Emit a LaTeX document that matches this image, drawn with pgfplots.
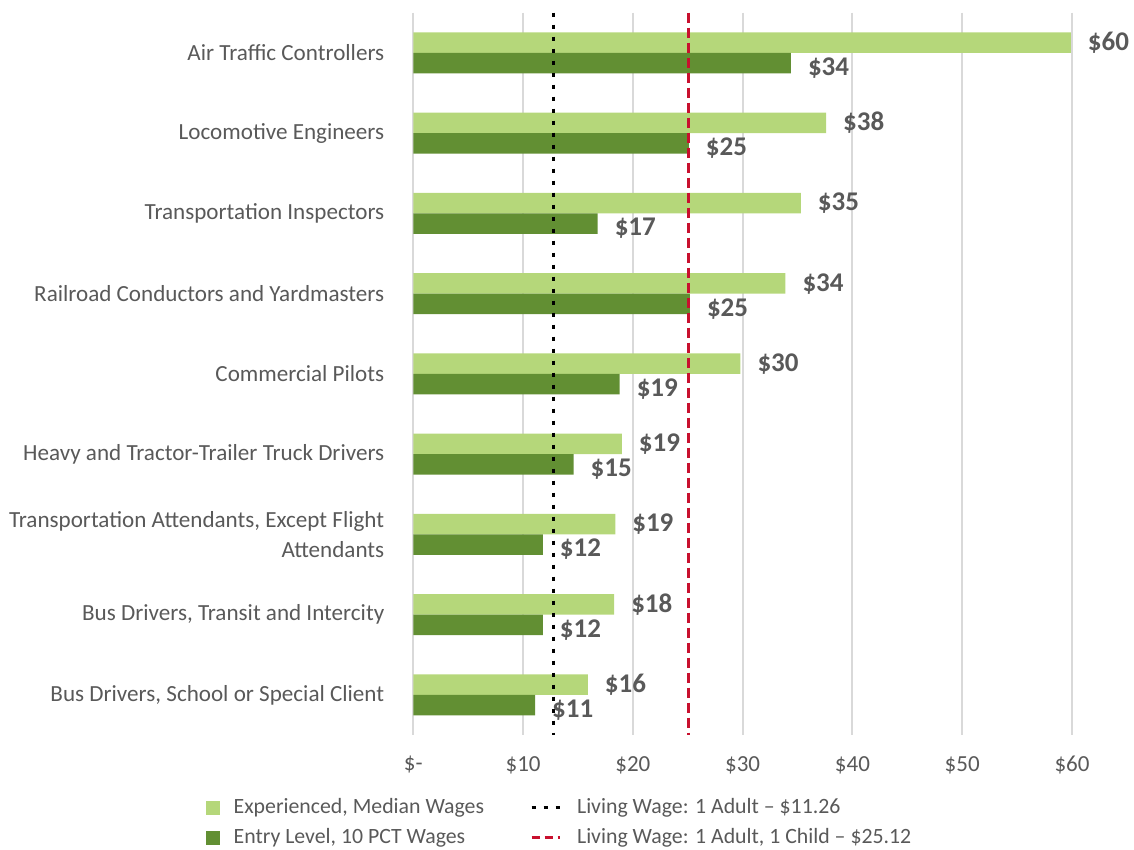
\documentclass[border=0pt]{standalone}
\usepackage{pgfplots}
\pgfplotsset{compat=1.18}
\usepackage{pgfplotstable}
\usepackage{fontspec}
\setmainfont{Carlito}
\definecolor{lightg}{RGB}{181,215,122}
\definecolor{darkg}{RGB}{98,143,51}
\definecolor{txtg}{RGB}{89,89,89}
\definecolor{gridg}{RGB}{217,217,217}
\definecolor{redl}{RGB}{200,16,46}
\pgfplotstableread{
y exp explab ent entlab
0 59.9 60 34.4 34
1 37.6 38 25.1 25
2 35.3 35 16.8 17
3 33.9 34 25.2 25
4 29.8 30 18.8 19
5 19.0 19 14.6 15
6 18.4 19 11.8 12
7 18.3 18 11.8 12
8 15.9 16 11.1 11
}\wages
\begin{document}
\begin{tikzpicture}
\begin{axis}[
  name=ax,
  scale only axis,
  width=329.35pt, height=361.15pt,
  xmin=0, xmax=60,
  ymin=-0.5, ymax=8.5,
  y dir=reverse,
  axis line style={draw=none},
  major tick length=0pt,
  xmajorgrids, grid style={gridg, line width=1pt},
  xtick={0,10,...,60},
  xticklabels={\$-,\$10,\$20,\$30,\$40,\$50,\$60},
  ytick={0,...,8},
  yticklabels={Air Traffic Controllers, Locomotive Engineers, Transportation Inspectors, Railroad Conductors and Yardmasters, Commercial Pilots, Heavy and Tractor-Trailer Truck Drivers, {Transportation Attendants, Except Flight\\Attendants}, {Bus Drivers, Transit and Intercity}, {Bus Drivers, School or Special Client}},
  yticklabel style={align=right, font=\fontsize{11.55}{15}\selectfont, text=txtg, xshift=-11pt},
  xticklabel style={font=\fontsize{11.5}{13}\selectfont, text=txtg, yshift=-7pt},
  clip=false,
  legend columns=2,
  transpose legend,
  legend cell align=left,
  legend style={at={(-0.325,-0.0765)}, anchor=north west, draw=none, fill=none,
    font=\fontsize{10.9}{12}\selectfont, text=txtg, row sep=2pt,
    /tikz/every even column/.append style={column sep=21pt}},
]
\addplot[xbar, bar width=0.256, bar shift=-0.128, fill=lightg, draw=none,
  point meta=explicit symbolic,
  nodes near coords={\$\pgfplotspointmeta},
  nodes near coords style={anchor=west, xshift=5pt, yshift=5pt, font=\fontsize{13.5}{15}\selectfont\bfseries, text=txtg},
  legend image code/.code={\fill[lightg] (0pt,-3.5pt) rectangle (7pt,3.5pt); \path (12pt,0pt);}]
  table[x=exp, y=y, meta=explab]{\wages};
\addlegendentry{Experienced, Median Wages}
\addplot[xbar, bar width=0.256, bar shift=0.128, fill=darkg, draw=none,
  point meta=explicit symbolic,
  nodes near coords={\$\pgfplotspointmeta},
  nodes near coords style={anchor=west, xshift=5pt, yshift=-7.5pt, font=\fontsize{13.5}{15}\selectfont\bfseries, text=txtg},
  legend image code/.code={\fill[darkg] (0pt,-3.5pt) rectangle (7pt,3.5pt); \path (12pt,0pt);}]
  table[x=ent, y=y, meta=entlab]{\wages};
\addlegendentry{Entry Level, 10 PCT Wages}
\addplot[black, line width=1.5pt, dash pattern=on 2pt off 4pt,
  legend image code/.code={\draw[black, line width=1.5pt, dash pattern=on 2pt off 4pt] (0pt,0pt) -- (14pt,0pt); \path (20pt,0pt);}]
  coordinates {(12.8,-0.5) (12.8,8.5)};
\addlegendentry{Living Wage: 1 Adult -- \$11.26}
\addplot[redl, line width=1.5pt, dash pattern=on 5pt off 2.5pt,
  legend image code/.code={\draw[redl, line width=1.5pt, dash pattern=on 4pt off 2.5pt] (0pt,0pt) -- (14pt,0pt); \path (20pt,0pt);}]
  coordinates {(25.1,-0.5) (25.1,8.5)};
\addlegendentry{Living Wage: 1 Adult, 1 Child -- \$25.12}
\end{axis}
\pgfresetboundingbox
\path[use as bounding box] (ax.south west) ++(-206.65pt,-57.5pt) rectangle ++(567pt,425pt);
\end{tikzpicture}
\end{document}
